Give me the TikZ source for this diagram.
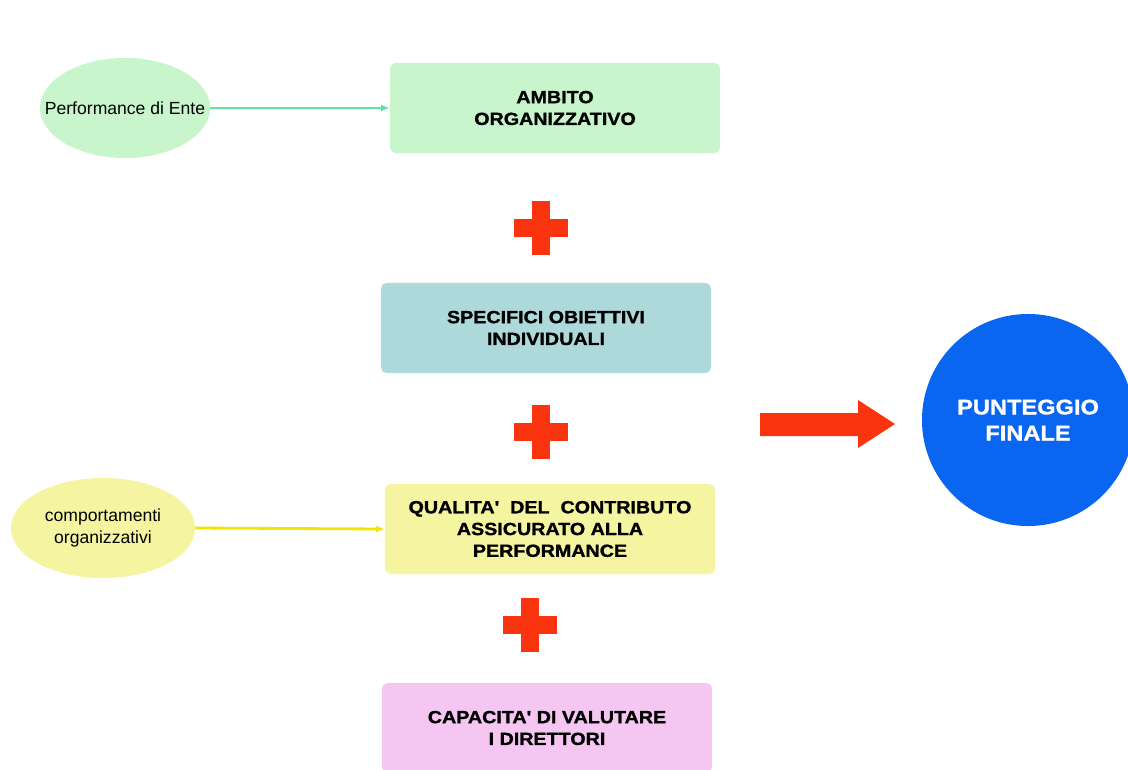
\documentclass[tikz,border=0pt]{standalone}
\usepackage{fontspec}
\setmainfont{Liberation Sans}
\newfontfamily\heavysans{Liberation Sans Bold}[FakeStretch=1.12, RawFeature={embolden=1.3}]
\usepackage{tikz}
\usetikzlibrary{arrows.meta}
\usetikzlibrary{shapes.geometric}
\usetikzlibrary{positioning}

\definecolor{softgreen}{RGB}{200,245,204}
\definecolor{softteal}{RGB}{174,217,218}
\definecolor{softyellow}{RGB}{245,244,160}
\definecolor{softpink}{RGB}{245,198,242}
\definecolor{mintline}{RGB}{96,228,160}
\definecolor{yellowline}{RGB}{242,230,0}
\definecolor{plusred}{RGB}{250,52,15}
\definecolor{scoreblue}{RGB}{10,102,240}

\tikzset{
  stage/.style={rectangle, rounded corners=4pt, minimum width=8.25cm, minimum height=2.25cm,
    align=center, font=\heavysans\fontsize{12.5}{15.5}\selectfont},
  source/.style={ellipse, minimum height=2.5cm, align=center, inner sep=0pt,
    font=\fontsize{12.5}{16}\selectfont},
  feed/.style={-{Latex[length=6pt,width=5pt]}, line width=2pt},
}

\begin{document}
\begin{tikzpicture}[x=0.025cm,y=-0.025cm]
\useasboundingbox[fill=white] (0,0) rectangle (1128,769);

% Stages of the evaluation
\node[stage, fill=softgreen] (ambito) at (555,108) {AMBITO\\ORGANIZZATIVO};
\node[stage, fill=softteal] (obiettivi) at (546,328) {SPECIFICI OBIETTIVI\\INDIVIDUALI};
\node[stage, fill=softyellow] (qualita) at (550,529) {QUALITA'\ \ DEL\ \ CONTRIBUTO\\ASSICURATO ALLA\\PERFORMANCE};
\node[stage, fill=softpink] (capacita) at (547,728) {CAPACITA' DI VALUTARE\\I DIRETTORI};

% Sources
\node[source, fill=softgreen, minimum width=4.25cm] (ente) at (125,108) {\makebox[0pt]{Performance di Ente}};
\node[source, fill=softyellow, minimum width=4.6cm] (comport) at (103,528) {comportamenti\\organizzativi};

\draw[feed, mintline] (ente.east) -- (ambito.west);
\draw[feed, yellowline] (comport.east) -- (qualita.west);

% Plus signs between the stages
\def\armlen{27}
\def\armwid{9}
\foreach \px/\py in {541/228, 541/432, 530/625} {
    \fill[plusred] (\px-\armwid,\py-\armlen) rectangle (\px+\armwid,\py+\armlen);
    \fill[plusred] (\px-\armlen,\py-\armwid) rectangle (\px+\armlen,\py+\armwid);
}

% Final score
\node[circle, fill=scoreblue, minimum size=5.3cm, align=center, text=white,
  font=\heavysans\fontsize{15}{18.5}\selectfont] (punteggio) at (1028,420) {PUNTEGGIO\\FINALE};

\fill[plusred] (760,413) -- (858,413) -- (858,400) -- (895,424) -- (858,448) -- (858,436) -- (760,436) -- cycle;
\end{tikzpicture}
\end{document}
